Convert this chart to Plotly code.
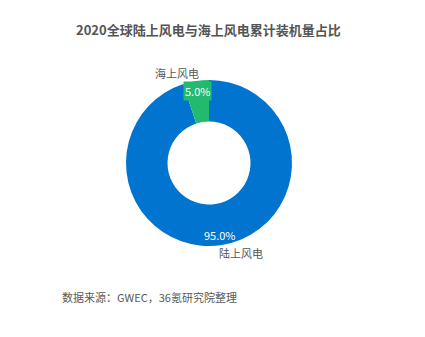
import math
import plotly.graph_objects as go

# ---- data ----
labels = ["陆上风电", "海上风电"]
values = [95.0, 5.0]
colors = ["#0074CF", "#22BA6F"]
title_text = "2020全球陆上风电与海上风电累计装机量占比"
source_text = "数据来源：GWEC，36氪研究院整理"

W, H = 425, 337
CX, CY, R = 209, 163, 83  # pie centre / radius in px
FONT = "Noto Sans CJK SC, Microsoft YaHei, sans-serif"

fig = go.Figure(go.Pie(
    labels=labels, values=values, sort=False, direction="clockwise", rotation=0,
    hole=0.5, marker=dict(colors=colors, line=dict(width=0)),
    textinfo="none", hoverinfo="label+percent", showlegend=False,
    domain=dict(x=[(CX - R) / W, (CX + R) / W],
                y=[(H - CY - R) / H, (H - CY + R) / H]),
))

def px(x, y):
    return x / W, 1 - y / H

ann = []
total = sum(values)
cum = 0.0
for lab, v, c in zip(labels, values, colors):
    mid = (cum + v / 2) / total * 2 * math.pi
    cum += v
    s, co = math.sin(mid), math.cos(mid)
    # percentage label inside ring near outer edge
    r1 = 0.88 * R
    x, y = px(CX + r1 * s, CY - r1 * co)
    ann.append(dict(x=x, y=y, xref="paper", yref="paper", showarrow=False,
                    text=f"{v / total * 100:.1f}%", bgcolor=c if v / total < 0.1 else None,
                    borderpad=1, xanchor="center", yanchor="middle",
                    font=dict(family=FONT, size=11, color="white")))
    # name label outside
    r2 = R + 8.5
    x, y = px(CX + r2 * s, CY - r2 * co)
    left = s < 0
    ann.append(dict(x=x, y=y, xref="paper", yref="paper", showarrow=False,
                    text=lab, xanchor="right" if left else "left",
                    xshift=6 if left else -6, yanchor="middle",
                    font=dict(family=FONT, size=11, color="#555555")))

tx, ty = px(208, 30)
ann.append(dict(x=tx, y=ty, xref="paper", yref="paper", showarrow=False,
                xanchor="center", yanchor="middle",
                text=f"<b>{title_text}</b>",
                font=dict(family=FONT, size=13, color="#555555")))
sx, sy = px(60, 297)
ann.append(dict(x=sx, y=sy, xref="paper", yref="paper", showarrow=False,
                xanchor="left", yanchor="middle", text=source_text,
                font=dict(family=FONT, size=11, color="#595959")))

fig.update_layout(
    width=W, height=H, margin=dict(l=0, r=0, t=0, b=0),
    paper_bgcolor="white", plot_bgcolor="white", annotations=ann,
)
fig.write_html("out.html")
